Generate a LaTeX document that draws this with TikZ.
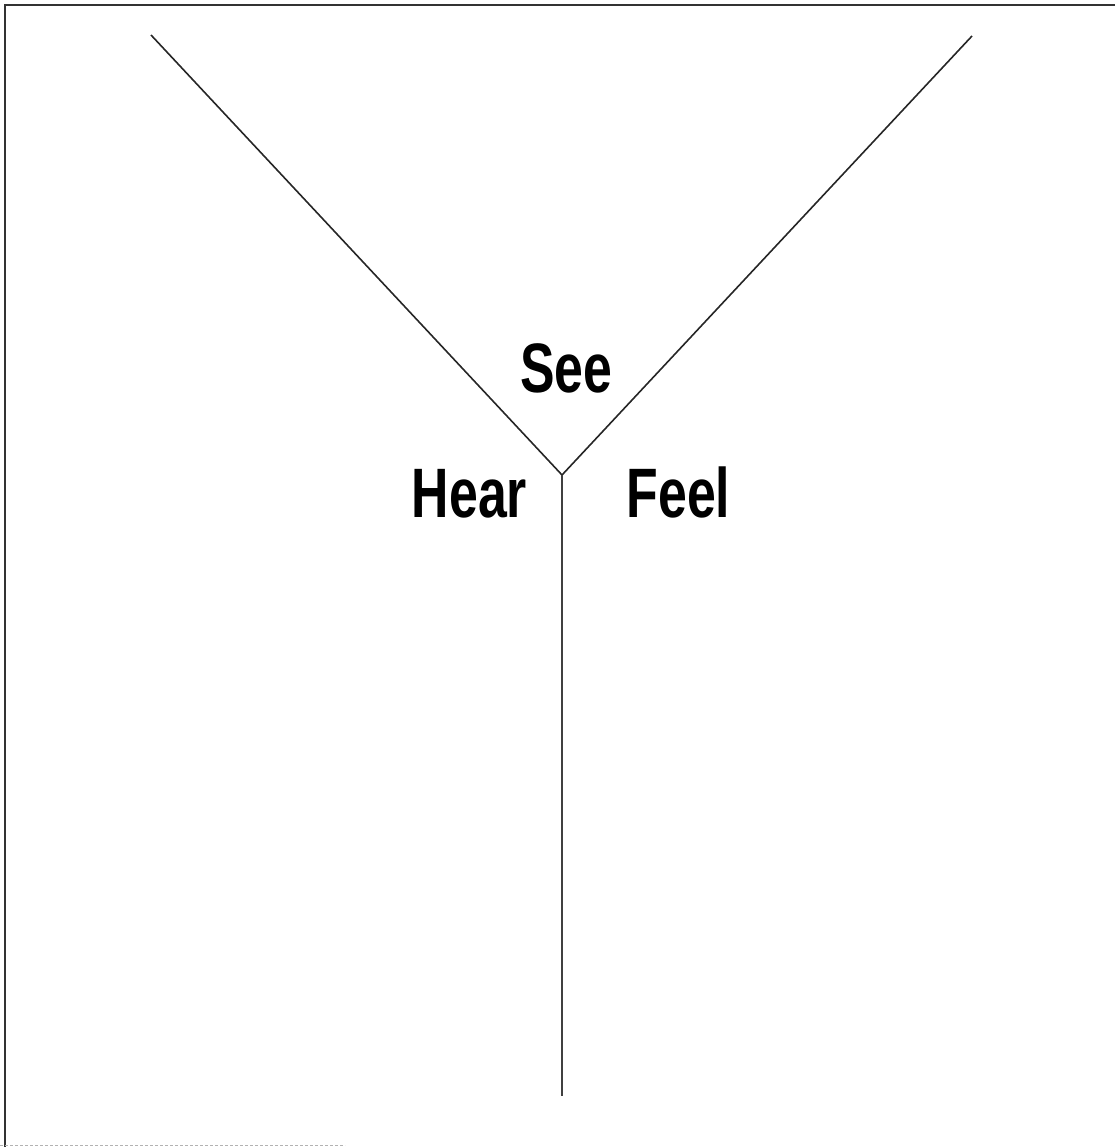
\documentclass[tikz,border=0pt]{standalone}
\usepackage{fontspec}
\usepackage{graphicx}
\newfontfamily\labfont{Liberation Sans}
\tikzset{
  lbl/.style={inner sep=0pt, anchor=base, font=\labfont\bfseries\fontsize{70}{70}\selectfont},
  arm/.style={line width=1.6pt, black!85},
  stem/.style={line width=1.4pt, black!75},
  frame/.style={line width=1.6pt, black!80}
}
\newcommand{\sq}[1]{\scalebox{0.74}[1]{#1}}
\begin{document}
\begin{tikzpicture}[x=1pt,y=-1pt]
\useasboundingbox (0,0) rectangle (1115,1147);
% frame
\coordinate (fTL) at (5,5);
\coordinate (fTR) at (1115,5);
\coordinate (fBL) at (5,1147);
\draw[frame] (fTR) -- (fTL) -- (fBL);
\coordinate (bA) at (0,1145.5);
\coordinate (bB) at (345,1145.5);
\draw[black!30, line width=1pt, dash pattern=on 3pt off 2pt] (bA) -- (bB);
% Y shape
\coordinate (tl) at (151,35);
\coordinate (tr) at (972,36);
\coordinate (j) at (562,475);
\coordinate (bot) at (562,1096);
\draw[arm] (tl) -- (j) -- (tr);
\draw[stem] (j) -- (bot);
% labels
\node[lbl] (see) at (566.5,392) {\sq{See}};
\node[lbl] (hear) at (469.5,517) {\sq{Hear}};
\node[lbl] (feel) at (678.5,517) {\sq{Feel}};
\end{tikzpicture}
\end{document}
